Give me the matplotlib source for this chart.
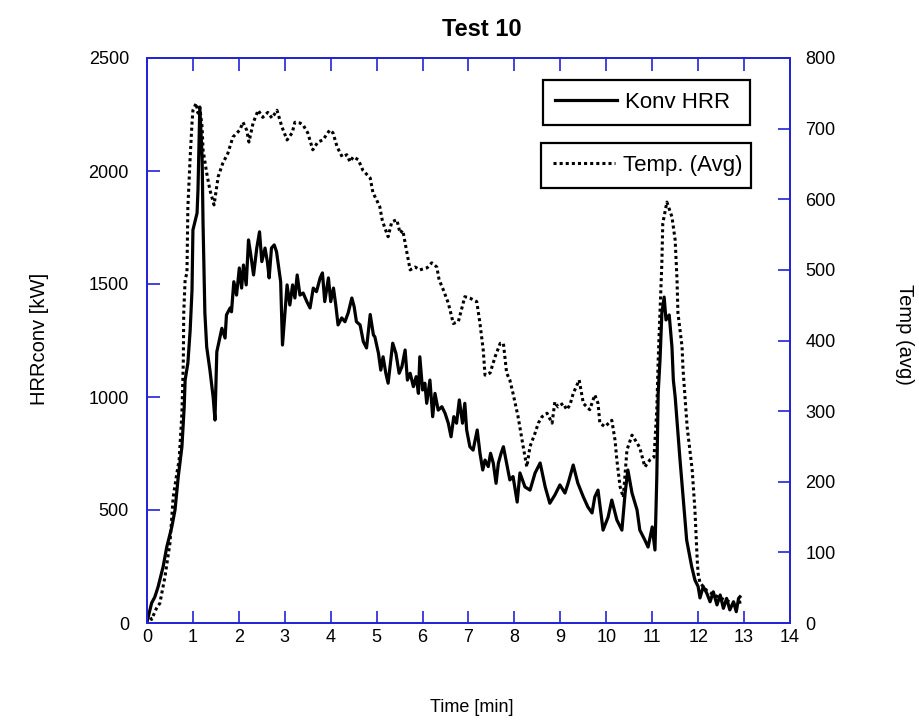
import matplotlib
matplotlib.use("Agg")
import matplotlib.pyplot as plt

# Convective heat release rate, Test 10
hrr_time = [0, 0.1, 0.17, 0.24, 0.35, 0.43, 0.54, 0.61, 0.68, 0.76, 0.81, 0.83, 0.89, 0.94, 0.98,
            1.0, 1.09, 1.11, 1.15, 1.2, 1.22, 1.26, 1.3, 1.37, 1.44, 1.48,
            1.52, 1.63, 1.70, 1.73, 1.81, 1.84, 1.89, 1.95, 2.01, 2.06, 2.10, 2.16, 2.21, 2.26,
            2.32, 2.39, 2.45, 2.50, 2.57, 2.62, 2.66, 2.71, 2.77, 2.82, 2.86, 2.91, 2.95, 3.00,
            3.05, 3.11, 3.17, 3.22, 3.27, 3.33, 3.40, 3.48, 3.55, 3.62, 3.69, 3.77, 3.82, 3.87,
            3.95, 4.0, 4.06, 4.11, 4.16, 4.24, 4.31, 4.38, 4.46, 4.51, 4.56, 4.64, 4.71, 4.78,
            4.86, 4.93, 4.96, 5.04, 5.09, 5.14, 5.2, 5.25, 5.35, 5.42, 5.49, 5.55, 5.62, 5.67,
            5.73, 5.80, 5.86, 5.91, 5.94, 6.0, 6.05, 6.09, 6.16, 6.22, 6.27, 6.34, 6.42, 6.49,
            6.56, 6.62, 6.68, 6.74, 6.80, 6.87, 6.92, 6.96, 7.03, 7.1, 7.19, 7.25, 7.31, 7.36,
            7.43, 7.48, 7.54, 7.60, 7.65, 7.71, 7.76, 7.83, 7.90, 7.97, 8.06, 8.12, 8.23, 8.34,
            8.45, 8.56, 8.67, 8.77, 8.88, 8.99, 9.1, 9.17, 9.28, 9.38, 9.5, 9.6, 9.69, 9.75, 9.82,
            9.93, 10.04, 10.12, 10.23, 10.34, 10.41, 10.47, 10.56, 10.67, 10.73, 10.84, 10.91,
            11.0, 11.06, 11.1, 11.13, 11.17, 11.21, 11.26, 11.3, 11.37, 11.43, 11.46, 11.5, 11.6,
            11.75, 11.86, 11.93, 12.0, 12.04, 12.11, 12.19, 12.26, 12.33, 12.41, 12.48, 12.55,
            12.62, 12.69, 12.77, 12.83, 12.88, 12.91]
hrr_kw = [4, 88, 115, 159, 248, 336, 425, 500, 646, 779, 956, 1075, 1150, 1296, 1473,
          1739, 1814, 1916, 2283, 2062, 1770, 1372, 1221, 1119, 1000, 898,
          1200, 1304, 1261, 1363, 1394, 1377, 1510, 1451, 1571, 1482, 1584, 1496, 1695, 1628,
          1540, 1659, 1731, 1599, 1659, 1599, 1527, 1659, 1673, 1643, 1584, 1510, 1230, 1363,
          1496, 1407, 1496, 1438, 1540, 1451, 1460, 1422, 1394, 1482, 1466, 1527, 1549, 1422,
          1527, 1422, 1482, 1407, 1319, 1350, 1333, 1372, 1438, 1400, 1333, 1319, 1245, 1217,
          1365, 1274, 1267, 1193, 1119, 1178, 1105, 1061, 1238, 1193, 1105, 1134, 1208, 1075,
          1105, 1046, 1090, 1016, 1178, 1031, 1061, 972, 1075, 913, 1016, 942, 957, 928,
          884, 824, 913, 884, 987, 884, 972, 854, 780, 765, 854, 751, 677, 721,
          692, 751, 707, 618, 707, 751, 780, 707, 633, 648, 535, 664, 602, 588,
          664, 708, 602, 530, 566, 611, 575, 619, 699, 619, 558, 513, 487, 558, 588,
          411, 469, 544, 456, 411, 575, 677, 575, 500, 411, 367, 336,
          425, 323, 646, 1018, 1164, 1372, 1442, 1341, 1363, 1221, 1075, 1000, 735,
          367, 249, 190, 161, 111, 161, 131, 94, 138, 80, 124, 65,
          109, 58, 94, 50, 109, 116]

# Average gas temperature
temp_time = [0, 0.1, 0.2, 0.28, 0.39, 0.5, 0.57, 0.65, 0.7, 0.76, 0.79, 0.8, 0.83, 0.87, 0.89,
             0.94, 0.98, 1.0, 1.07, 1.11, 1.15, 1.2, 1.22, 1.3, 1.37, 1.46, 1.55, 1.65, 1.76, 1.87,
             2.02, 2.09, 2.17, 2.22, 2.31, 2.42, 2.52, 2.63, 2.72, 2.83, 2.94, 3.05, 3.16, 3.22, 3.33,
             3.4, 3.5, 3.61, 3.72, 3.83, 3.98, 4.05, 4.14, 4.25, 4.35, 4.42, 4.49, 4.6, 4.7, 4.86,
             4.92, 5.0, 5.07, 5.12, 5.18, 5.25, 5.33, 5.44, 5.51, 5.57, 5.62, 5.66, 5.73, 5.84, 5.94,
             6.1, 6.2, 6.31, 6.36, 6.45, 6.56, 6.67, 6.78, 6.92, 7.03, 7.18, 7.25, 7.32, 7.36, 7.47,
             7.58, 7.69, 7.76, 7.83, 7.90, 7.97, 8.08, 8.19, 8.27, 8.34, 8.45, 8.52, 8.6, 8.71, 8.82,
             8.88, 8.95, 9.06, 9.14, 9.21, 9.28, 9.41, 9.5, 9.64, 9.75, 9.82, 9.86, 9.97, 10.12,
             10.19, 10.23, 10.3, 10.37, 10.45, 10.56, 10.67, 10.73, 10.84, 10.95, 11.04, 11.1, 11.13,
             11.17, 11.21, 11.23, 11.32, 11.43, 11.5, 11.54, 11.56, 11.65, 11.67, 11.76, 11.87, 11.93,
             11.96, 11.98, 12.0, 12.04, 12.2, 12.4, 12.6, 12.8, 12.95]
temp_c = [15, 5, 20, 28, 65, 113, 178, 212, 231, 297, 368, 439, 486, 496, 589,
          660, 708, 726, 736, 722, 730, 702, 670, 637, 613, 592, 632, 651, 665, 688,
          698, 709, 698, 681, 708, 726, 716, 723, 715, 726, 702, 684, 694, 709, 708,
          705, 694, 670, 681, 684, 698, 694, 674, 660, 663, 653, 660, 656, 641, 630,
          609, 599, 589, 571, 559, 547, 568, 571, 552, 556, 538, 524, 500, 504, 500,
          503, 510, 504, 486, 472, 453, 424, 427, 462, 460, 455, 424, 387, 351, 354,
          377, 396, 396, 354, 344, 325, 292, 250, 221, 250, 269, 283, 292, 297, 283,
          313, 306, 311, 302, 309, 325, 344, 311, 302, 323, 311, 283, 278, 287,
          259, 231, 193, 178, 245, 266, 255, 248, 221, 231, 235, 302, 372,
          439, 510, 566, 596, 575, 542, 486, 439, 391, 360, 278, 217, 160,
          117, 89, 70, 57, 45, 38, 32, 28, 30]

x_ticks = list(range(0, 15))
hrr_ticks = [0, 500, 1000, 1500, 2000, 2500]
temp_ticks = [0, 100, 200, 300, 400, 500, 600, 700, 800]

plt.rcParams['font.family'] = ['Liberation Sans', 'DejaVu Sans']
axis_blue = '#2323d8'
fs = 13

fig = plt.figure(figsize=(9.2, 7.24), dpi=100)
ax = fig.add_axes([147 / 920, 101 / 724, 643 / 920, 565 / 724])
ax2 = ax.twinx()

l1, = ax.plot(hrr_time, hrr_kw, color='black', lw=2.3, solid_joinstyle='round')
l2, = ax2.plot(temp_time, temp_c, color='black', lw=2.2, linestyle=(0, (1.0, 1.0)))

ax.set_xlim(0, 14)
ax.set_ylim(0, 2500)
ax2.set_ylim(0, 800)
ax.set_xticks(x_ticks)
ax.set_yticks(hrr_ticks)
ax2.set_yticks(temp_ticks)

for a in (ax, ax2):
    for s in a.spines.values():
        s.set_color(axis_blue)
        s.set_linewidth(1.3)

ax.tick_params(axis='x', which='both', direction='in', length=9, width=1.2, color=axis_blue,
               top=True, bottom=True, labelsize=fs, pad=4)
ax.tick_params(axis='y', direction='in', length=9, width=1.2, color=axis_blue,
               left=True, right=False, labelsize=fs, pad=13)
ax2.tick_params(axis='y', direction='in', length=9, width=1.2, color=axis_blue,
                left=False, right=True, labelsize=fs, pad=11)

fig.text(482 / 920, 1 - 30 / 724, 'Test 10', ha='center', va='center', fontsize=17, fontweight='bold')
fig.text(472 / 920, 1 - 707 / 724, 'Time [min]', ha='center', va='center', fontsize=fs)
fig.text(40 / 920, 1 - 339 / 724, 'HRRconv [kW]', ha='center', va='center', fontsize=14.5, rotation=90)
fig.text(905 / 920, 1 - 334 / 724, 'Temp (avg)', ha='center', va='center', fontsize=14.5, rotation=270)

def boxed_legend(axis, handle, label, x0, top, width):
    leg = axis.legend([handle], [label], loc='upper left', mode='expand',
                      bbox_to_anchor=(x0, top - 0.1, width, 0.1), bbox_transform=fig.transFigure,
                      borderaxespad=0, fontsize=16, frameon=True, fancybox=False, framealpha=1,
                      edgecolor='black', handlelength=2.8, handletextpad=0.35, borderpad=0.55)
    leg.get_frame().set_linewidth(1.6)
    return leg

leg1 = boxed_legend(ax2, l1, 'Konv HRR', 543 / 920, 1 - 80 / 724, 207 / 920)
ax2.add_artist(leg1)
boxed_legend(ax2, l2, 'Temp. (Avg)', 541 / 920, 1 - 143 / 724, 210 / 920)

fig.savefig('out.png', dpi=100)
